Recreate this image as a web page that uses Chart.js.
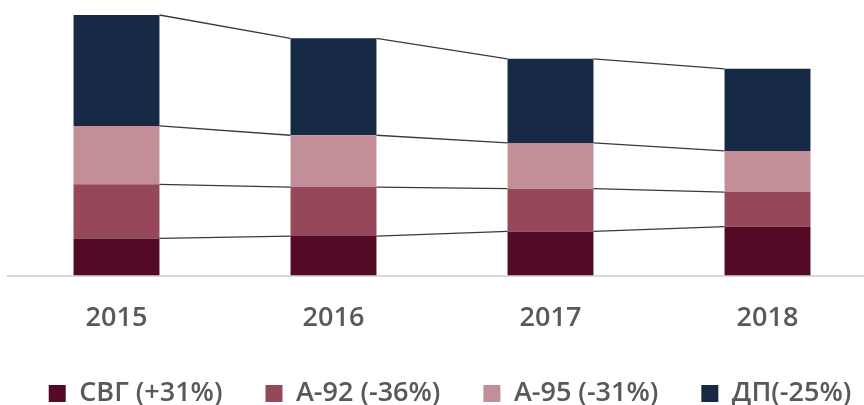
<!DOCTYPE html>
<html>
<head>
<meta charset="utf-8">
<script src="https://cdn.jsdelivr.net/npm/chart.js@4"></script>
<style>
  html, body { margin: 0; padding: 0; background: #fff; overflow: hidden; }
  #wrap { width: 900px; height: 405px; }
</style>
</head>
<body>
<div id="wrap"><canvas id="fuelChart"></canvas></div>
<script>
const years = ["2015", "2016", "2017", "2018"];

// segment sizes (relative units)
const svg = [37, 39.3, 44, 48.7];
const a92 = [54, 49, 42.7, 34.6];
const a95 = [58.3, 51.7, 45.6, 41];
const dp = [110.7, 96.7, 84, 82];

const seriesNames = ["СВГ (+31%)", "А-92 (-36%)", "А-95 (-31%)", "ДП(-25%)"];
const seriesColors = ["#530a27", "#96485a", "#c28f99", "#162a45"];

// thin lines joining the top of each segment between neighbouring bars
const connectors = {
  id: "connectors",
  afterDatasetsDraw(chart) {
    const ctx = chart.ctx;
    ctx.save();
    ctx.strokeStyle = "#3a3a3a";
    ctx.lineWidth = 1.3;
    chart.data.datasets.forEach((ds, i) => {
      const bars = chart.getDatasetMeta(i).data;
      for (let j = 0; j < bars.length - 1; j++) {
        const a = bars[j], b = bars[j + 1];
        ctx.beginPath();
        ctx.moveTo(a.x + a.width / 2, a.y);
        ctx.lineTo(b.x - b.width / 2, b.y);
        ctx.stroke();
      }
    });
    ctx.restore();
  }
};

const font = { family: "'Open Sans', sans-serif", size: 27, weight: "600" };

// empty side axes, only used to push the plot area in from the edges
function spacer(pos, w) {
  return {
    position: pos,
    display: true,
    stacked: true,
    min: 0,
    max: 260,
    grid: { display: false },
    border: { display: false },
    ticks: { display: false },
    afterFit: scale => { scale.width = w; }
  };
}

new Chart(document.getElementById("fuelChart"), {
  type: "bar",
  data: {
    labels: years,
    datasets: [svg, a92, a95, dp].map((vals, i) => ({
      label: seriesNames[i],
      data: vals,
      backgroundColor: seriesColors[i],
      borderWidth: 0,
      barPercentage: 1,
      categoryPercentage: 0.396
    }))
  },
  options: {
    responsive: true,
    maintainAspectRatio: false,
    animation: false,
    layout: { padding: { top: 15, left: 0, right: 0, bottom: 0 } },
    scales: {
      x: {
        stacked: true,
        grid: { display: false },
        border: { color: "#d9d9d9", width: 2 },
        ticks: { color: "#595959", font: font, padding: 19 },
        afterFit: scale => { scale.height = 61.5; }
      },
      y: spacer("left", 8),
      yRight: spacer("right", 24)
    },
    plugins: {
      legend: {
        position: "bottom",
        maxHeight: 68,
        labels: {
          color: "#595959",
          font: font,
          boxWidth: 17,
          boxHeight: 17,
          padding: 43
        }
      },
      tooltip: { enabled: false }
    }
  },
  plugins: [connectors]
});
</script>
</body>
</html>
